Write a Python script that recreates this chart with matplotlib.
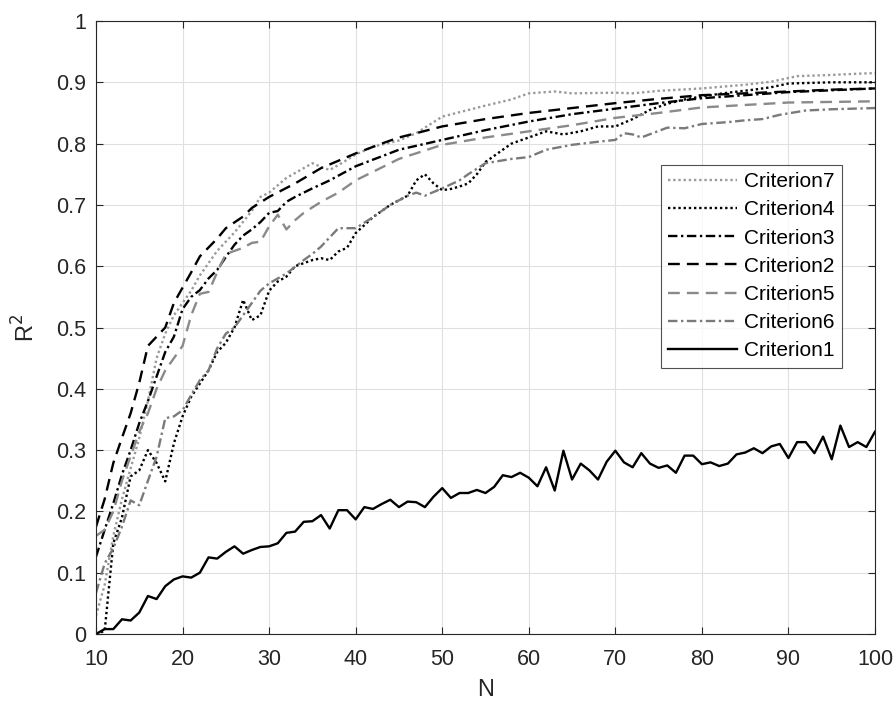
import matplotlib
matplotlib.use("Agg")
import matplotlib.pyplot as plt
import numpy as np

plt.rcParams['font.family'] = ['Liberation Sans', 'DejaVu Sans']

# Criterion1 (every N)
n1 = list(range(10, 101))
c1 = [0.0, 0.008, 0.008, 0.024, 0.022, 0.035, 0.062, 0.057, 0.078, 0.089,
      0.094, 0.092, 0.100, 0.125, 0.123, 0.134, 0.143, 0.131, 0.137, 0.142,
      0.143, 0.148, 0.165, 0.167, 0.183, 0.184, 0.194, 0.172, 0.202, 0.202,
      0.187, 0.207, 0.204, 0.212, 0.219, 0.207, 0.216, 0.215, 0.207, 0.224,
      0.238, 0.222, 0.230, 0.230, 0.235, 0.230, 0.240, 0.259, 0.256, 0.263,
      0.255, 0.241, 0.272, 0.234, 0.299, 0.252, 0.278, 0.267, 0.252, 0.281,
      0.299, 0.280, 0.272, 0.295, 0.278, 0.271, 0.275, 0.263, 0.291, 0.291,
      0.277, 0.280, 0.274, 0.278, 0.293, 0.296, 0.303, 0.295, 0.306, 0.310,
      0.287, 0.313, 0.313, 0.295, 0.322, 0.285, 0.340, 0.305, 0.313, 0.305,
      0.330]

n2 = [10, 11, 12, 13, 14, 15, 16, 17, 18, 19, 20, 21, 22, 24, 25, 27, 28, 30, 33, 36, 40, 43, 45, 47, 50, 55, 60, 65, 70, 75, 80, 85, 90, 95, 100]
c2 = [0.175, 0.22, 0.279, 0.32, 0.36, 0.41, 0.47, 0.485, 0.50, 0.54, 0.565, 0.59, 0.616, 0.645, 0.662, 0.681, 0.695, 0.713, 0.735, 0.76, 0.784, 0.80, 0.81, 0.817, 0.828, 0.84, 0.85, 0.858, 0.866, 0.873, 0.879, 0.882, 0.885, 0.888, 0.89]

n3 = [10, 11, 12, 13, 14, 15, 16, 17, 18, 19, 20, 21, 22, 23, 24, 25, 26, 27, 28, 29, 30, 31, 32, 33, 35, 37, 40, 45, 50, 55, 60, 65, 70, 75, 80, 85, 90, 95, 100]
c3 = [0.126, 0.17, 0.213, 0.26, 0.30, 0.344, 0.38, 0.42, 0.46, 0.485, 0.53, 0.55, 0.561, 0.58, 0.594, 0.615, 0.635, 0.65, 0.66, 0.672, 0.687, 0.69, 0.705, 0.713, 0.727, 0.74, 0.763, 0.79, 0.806, 0.822, 0.836, 0.848, 0.857, 0.866, 0.874, 0.879, 0.884, 0.887, 0.89]

n4 = [10, 11, 12, 13, 14, 15, 16, 17, 18, 19, 20, 21, 23, 24, 25, 26, 27, 28, 29, 30, 31, 32, 33, 34, 35, 36, 37, 38, 39, 40, 42, 44, 46, 47, 48, 49, 50, 51, 52, 53, 54, 55, 56, 57, 58, 60, 62, 64, 66, 68, 70, 72, 74, 76, 78, 80, 83, 86, 88, 90, 95, 100]
c4 = [0.0, 0.005, 0.148, 0.19, 0.257, 0.267, 0.30, 0.279, 0.249, 0.311, 0.355, 0.387, 0.43, 0.46, 0.475, 0.50, 0.545, 0.512, 0.52, 0.56, 0.575, 0.583, 0.60, 0.605, 0.61, 0.613, 0.61, 0.624, 0.63, 0.654, 0.68, 0.70, 0.715, 0.74, 0.75, 0.735, 0.724, 0.726, 0.73, 0.735, 0.75, 0.77, 0.78, 0.79, 0.80, 0.81, 0.82, 0.815, 0.82, 0.828, 0.828, 0.84, 0.855, 0.865, 0.872, 0.877, 0.883, 0.888, 0.892, 0.898, 0.90, 0.90]

n5 = [10, 11, 12, 13, 14, 15, 16, 17, 18, 19, 20, 21, 22, 23, 24, 25, 26, 27, 28, 29, 30, 31, 32, 33, 34, 36, 38, 40, 45, 50, 55, 60, 65, 70, 75, 80, 85, 90, 95, 100]
c5 = [0.16, 0.17, 0.20, 0.25, 0.29, 0.33, 0.36, 0.40, 0.43, 0.45, 0.47, 0.52, 0.555, 0.558, 0.59, 0.62, 0.625, 0.63, 0.638, 0.64, 0.665, 0.684, 0.66, 0.675, 0.687, 0.705, 0.72, 0.74, 0.775, 0.798, 0.81, 0.82, 0.83, 0.842, 0.85, 0.859, 0.863, 0.867, 0.868, 0.869]

n6 = [10, 11, 12, 13, 14, 15, 16, 17, 18, 19, 20, 21, 22, 23, 24, 25, 26, 27, 28, 29, 30, 32, 34, 35, 36, 38, 40, 42, 44, 46, 47, 48, 50, 52, 53, 55, 58, 60, 62, 65, 68, 70, 71, 72, 73, 76, 78, 80, 83, 85, 87, 89, 92, 95, 100]
c6 = [0.067, 0.115, 0.14, 0.175, 0.218, 0.21, 0.25, 0.289, 0.352, 0.355, 0.365, 0.39, 0.414, 0.43, 0.466, 0.49, 0.50, 0.52, 0.54, 0.56, 0.572, 0.588, 0.61, 0.62, 0.632, 0.662, 0.662, 0.68, 0.70, 0.715, 0.72, 0.715, 0.727, 0.74, 0.75, 0.768, 0.775, 0.778, 0.79, 0.798, 0.803, 0.806, 0.817, 0.815, 0.81, 0.826, 0.825, 0.832, 0.835, 0.838, 0.84, 0.847, 0.854, 0.856, 0.858]

n7 = [10, 11, 12, 13, 14, 15, 16, 17, 18, 19, 20, 21, 22, 24, 26, 28, 29, 30, 32, 35, 36, 37, 38, 40, 42, 45, 47, 50, 55, 58, 60, 63, 65, 70, 72, 75, 80, 85, 88, 91, 95, 98, 100]
c7 = [0.03, 0.08, 0.16, 0.22, 0.27, 0.32, 0.38, 0.45, 0.49, 0.52, 0.54, 0.56, 0.585, 0.625, 0.655, 0.69, 0.713, 0.72, 0.744, 0.768, 0.762, 0.757, 0.765, 0.782, 0.795, 0.805, 0.817, 0.844, 0.862, 0.872, 0.882, 0.885, 0.882, 0.883, 0.882, 0.886, 0.89, 0.896, 0.901, 0.91, 0.912, 0.914, 0.915]

xticks = list(range(10, 101, 10))
yticks = [0, 0.1, 0.2, 0.3, 0.4, 0.5, 0.6, 0.7, 0.8, 0.9, 1]
yticklabels = ['0', '0.1', '0.2', '0.3', '0.4', '0.5', '0.6', '0.7', '0.8', '0.9', '1']

fig = plt.figure(figsize=(8.96, 7.07), dpi=100)
ax = fig.add_axes([96/896, 1-634/707, (875-96)/896, (634-21)/707])

lw = 1.7
ax.plot(n7, c7, color='#9a9a9a', ls=(0, (1, 1.2)), lw=lw, label='Criterion7')
ax.plot(n4, c4, color='black', ls=(0, (1, 1.2)), lw=lw, label='Criterion4')
ax.plot(n3, c3, color='black', ls=(0, (4, 1.5, 1, 1.5)), lw=lw, label='Criterion3')
ax.plot(n2, c2, color='black', ls=(0, (5, 3)), lw=lw, label='Criterion2')
ax.plot(n5, c5, color='#8a8a8a', ls=(0, (5, 3)), lw=lw, label='Criterion5')
ax.plot(n6, c6, color='#7a7a7a', ls=(0, (4, 1.5, 1, 1.5)), lw=lw, label='Criterion6')
ax.plot(n1, c1, color='black', ls='-', lw=lw, label='Criterion1')

ax.set_xlim(10, 100)
ax.set_ylim(0, 1)
ax.set_xticks(xticks)
ax.set_yticks(yticks)
ax.set_yticklabels(yticklabels)
ax.grid(True, color='#e0e0e0', lw=0.8)
ax.set_axisbelow(True)
for s in ax.spines.values():
    s.set_color('#262626')
    s.set_linewidth(0.8)
ax.tick_params(direction='in', length=5, colors='#262626', labelsize=15.5, top=True, right=True)
ax.tick_params(axis='x', pad=11)
ax.tick_params(axis='y', pad=7)
ax.set_xlabel('N', fontsize=17, color='#262626', labelpad=6)
ax.set_ylabel('R$^2$', fontsize=17, color='#262626', labelpad=12)

leg = ax.legend(loc='upper left', bbox_to_anchor=((661-96)/779, 1-(165-21)/613), fontsize=15,
                frameon=True, fancybox=False, edgecolor='#262626', handlelength=3.3,
                borderaxespad=0, borderpad=0.35, labelspacing=0.44, handletextpad=0.35)
leg.get_frame().set_linewidth(0.8)

fig.savefig('out.png', dpi=100)
